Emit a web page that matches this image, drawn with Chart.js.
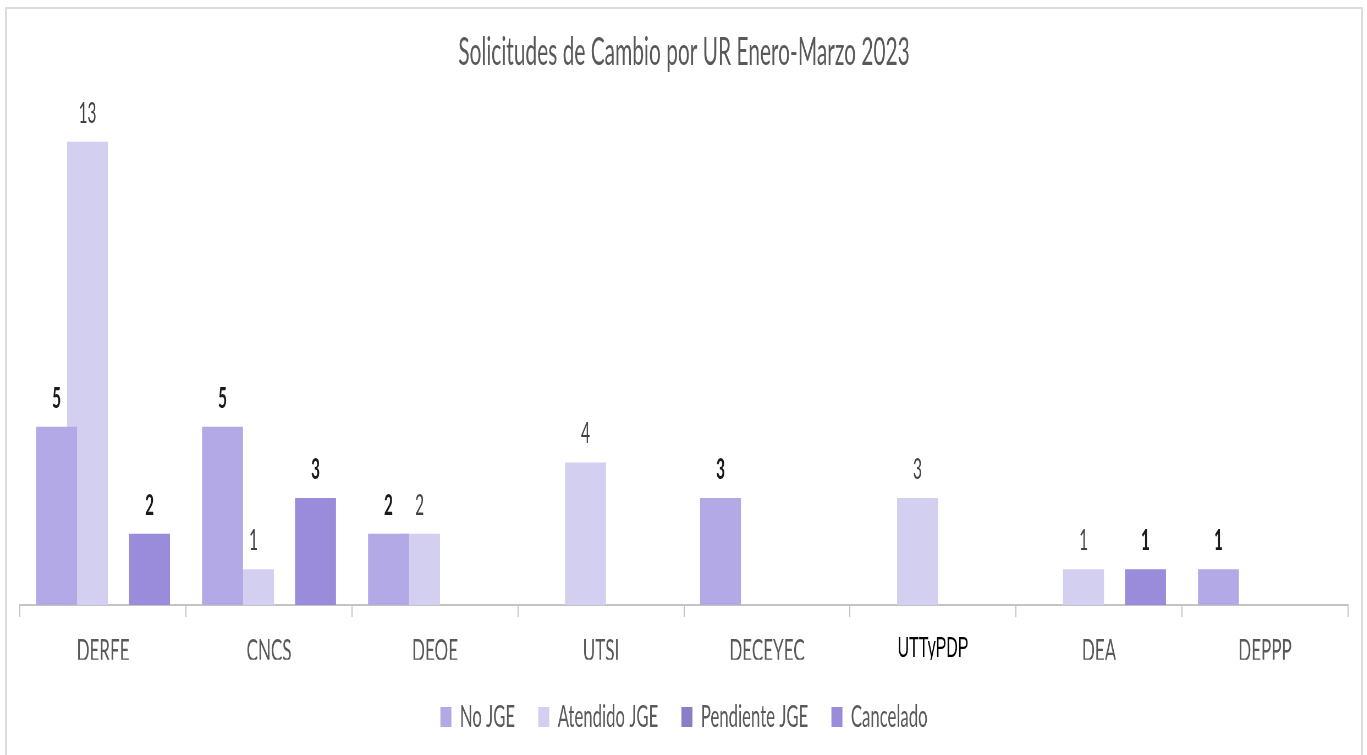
<!DOCTYPE html>
<html>
<head>
<meta charset="utf-8">
<title>Solicitudes de Cambio por UR</title>
<script src="https://cdn.jsdelivr.net/npm/chart.js@4/dist/chart.umd.min.js"></script>
<style>
    html, body { margin: 0; padding: 0; background: #fff; overflow: hidden; }
    #frame {
        position: absolute; left: 5px; top: 7px;
        width: 1358px; height: 760px;
        border: 2px solid #dcdcdc; box-sizing: border-box;
        pointer-events: none;
    }
    /* the reference text is tall and narrow, so the chart is drawn wide and squeezed */
    #chart-box {
        position: absolute; left: 0; top: 0;
        width: 2485.45px; height: 755px;
        transform: scaleX(0.55); transform-origin: 0 0;
    }
</style>
</head>
<body>
<div id="chart-box"><canvas id="myChart"></canvas></div>
<div id="frame"></div>
<script>
// Chart data
const categories = ['DERFE', 'CNCS', 'DEOE', 'UTSI', 'DECEYEC', 'UTTyPDP', 'DEA', 'DEPPP'];
const noJGE     = [5, 5, 2, 0, 3, 0, 0, 1];
const atendido  = [13, 1, 2, 4, 0, 3, 1, 0];
const pendiente = [0, 0, 0, 0, 0, 0, 0, 0];
const cancelado = [2, 3, 0, 0, 0, 0, 1, 0];

const seriesNames  = ['No JGE', 'Atendido JGE', 'Pendiente JGE', 'Cancelado'];
const seriesColors = ['#b3a9e6', '#d3cff0', '#8a7fc6', '#9b8bdb'];

const mainFont = 'Lato, "Open Sans", sans-serif';
const grayText = '#595959';

// Draw the value on top of every non-zero bar
const valueLabels = {
    id: 'valueLabels',
    afterDatasetsDraw(chart) {
        const ctx = chart.ctx;
        ctx.save();
        ctx.textAlign = 'center';
        ctx.textBaseline = 'alphabetic';
        chart.data.datasets.forEach((ds, i) => {
            const meta = chart.getDatasetMeta(i);
            meta.data.forEach((bar, j) => {
                const v = ds.data[j];
                if (!v) return;
                const strong = i != 1;
                ctx.font = (strong ? 'bold ' : '') + '28px ' + mainFont;
                ctx.fillStyle = strong ? '#1a1a1a' : '#404040';
                ctx.fillText(String(v), bar.x, bar.y - 19);
            });
        });
        ctx.restore();
    }
};

const datasets = [noJGE, atendido, pendiente, cancelado].map((values, i) => ({
    label: seriesNames[i],
    data: values,
    backgroundColor: seriesColors[i],
    borderWidth: 0,
    categoryPercentage: 0.747,
    barPercentage: 1.32
}));

new Chart(document.getElementById('myChart'), {
    type: 'bar',
    data: { labels: categories, datasets: datasets },
    plugins: [valueLabels],
    options: {
        responsive: true,
        maintainAspectRatio: false,
        animation: false,
        layout: { padding: { left: 36.4, right: 34.5, top: 0, bottom: 12.75 } },
        plugins: {
            title: {
                display: true,
                text: 'Solicitudes de Cambio por UR Enero-Marzo 2023',
                color: grayText,
                font: { family: mainFont, size: 38, weight: 'normal' },
                padding: { top: 30, bottom: 30.4 }
            },
            legend: {
                position: 'bottom',
                labels: {
                    color: grayText,
                    font: { family: mainFont, size: 30.5 },
                    boxWidth: 20,
                    boxHeight: 20,
                    padding: 42
                }
            },
            tooltip: { enabled: false }
        },
        scales: {
            x: {
                grid: {
                    display: true,
                    drawOnChartArea: false,
                    drawTicks: true,
                    tickLength: 12,
                    color: '#c4c4c4',
                    lineWidth: 2
                },
                border: { display: true, color: '#c4c4c4', width: 2 },
                ticks: {
                    padding: 15,
                    maxRotation: 0,
                    autoSkip: false,
                    // UTTyPDP is set in a different font in the original
                    color: (c) => categories[c.index] == 'UTTyPDP' ? '#000000' : grayText,
                    font: (c) => categories[c.index] == 'UTTyPDP'
                        ? { family: '"Liberation Sans", Arial, sans-serif', size: 29 }
                        : { family: mainFont, size: 31 }
                },
                // labels sit close to the legend in the original
                afterFit: (scale) => { scale.height = 54.75; }
            },
            y: {
                display: false,
                min: 0,
                max: 14
            }
        }
    }
});
</script>
</body>
</html>
